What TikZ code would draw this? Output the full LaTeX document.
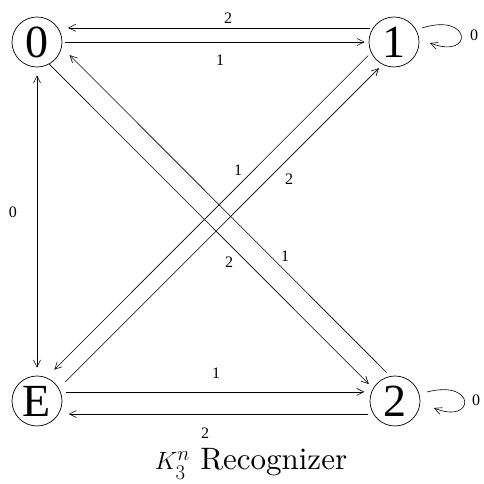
\documentclass[tikz,border=0pt]{standalone}
\usepackage{amsmath, amssymb}
\usepackage{fontspec}
\newfontfamily\figfont{Liberation Serif}
\newfontfamily\capfont{lmroman10-regular.otf}
\usepackage{tikz}
\usetikzlibrary{positioning, calc, arrows.meta}

\tikzset{
  state/.style={draw, circle, minimum size=50pt, inner sep=0pt, line width=0.7pt,
    font=\figfont\fontsize{46}{46}\selectfont},
  edgelabel/.style={font=\figfont\fontsize{16}{16}\selectfont},
  arc/.style={-{Straight Barb[length=7pt, width=7pt]}, line width=0.6pt},
  twoarc/.style={{Straight Barb[length=7pt, width=7pt]}-{Straight Barb[length=7pt, width=7pt]}, line width=0.6pt}
}

\begin{document}
\begin{tikzpicture}[x=1pt, y=1pt]

      % Fix the page size.
      \useasboundingbox (0,0) rectangle (483,484);

      % Draw the four states.
      \node[state] (n0) at (37,442) {0};
      \node[state] (n1) at (394,442) {1};
      \node[state] (nE) at (37,83) {E};
      \node[state] (n2) at (395,83) {2};

      % Draw the top pair of arcs.
      \draw[arc, shorten <=3pt, shorten >=10pt] (n1.146) -- (n0.34);
      \draw[arc, shorten <=3pt, shorten >=4pt] (n0.east) -- (n1.west);
      \node[edgelabel] (l10) at (228,466) {2};
      \node[edgelabel] (l01) at (220,424) {1};

      % Draw the bottom pair of arcs.
      \draw[arc, shorten <=5pt, shorten >=7pt] (nE.21) -- (n2.159);
      \draw[arc, shorten <=5pt, shorten >=10pt] (n2.211) -- (nE.329);
      \node[edgelabel] (lE2) at (216,111) {1};
      \node[edgelabel] (l2E) at (205,51) {2};

      % Draw the arc between 0 and E.
      \draw[twoarc, shorten <=8pt, shorten >=8pt] (n0.south) -- (nE.north);
      \node[edgelabel] (l0E) at (13,272) {0};

      % Draw the crossing arcs.
      \draw[arc, shorten >=6pt] (n0.-61) -- (n2.150);
      \draw[arc, shorten <=5pt, shorten >=11pt] (n2.101) -- (n0.-12.5);
      \draw[arc, shorten <=4pt, shorten >=11pt] (n1.205) -- (nE.68);
      \draw[arc, shorten <=9pt, shorten >=5pt] (nE.30) -- (n1.243);
      \node[edgelabel] (l02) at (229,222) {2};
      \node[edgelabel] (l20) at (285,228) {1};
      \node[edgelabel] (l1E) at (238,314) {1};
      \node[edgelabel] (lE1) at (289,305) {2};

      % Draw the loops on 1 and 2.
      \draw[arc] ($(n1)+(28,14)$) .. controls ($(n1)+(78,30)$) and ($(n1)+(80,-18)$) .. ($(n1)+(36,-1)$);
      \node[edgelabel] (l11) at (474,449) {0};
      \draw[arc] ($(n2)+(32,9)$) .. controls ($(n2)+(82,22)$) and ($(n2)+(80,-24)$) .. ($(n2)+(39,-7)$);
      \node[edgelabel] (l22) at (476,84) {0};

      % Draw the caption.
      \node[font=\capfont\fontsize{31}{31}\selectfont] (title) at (251,20) {$K_3^n$\ Recognizer};
    \end{tikzpicture}
\end{document}
